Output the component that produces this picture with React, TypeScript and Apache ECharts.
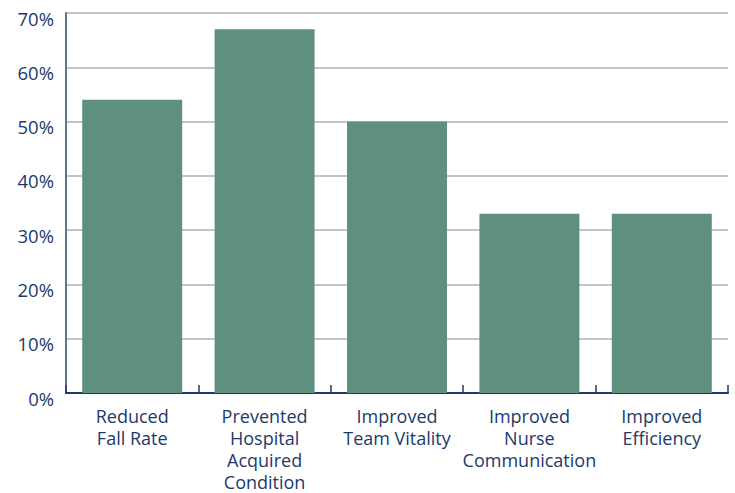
import React, { useEffect, useRef } from "react";
import * as echarts from "echarts";

const categories = [
  "Reduced\nFall Rate",
  "Prevented\nHospital\nAcquired\nCondition",
  "Improved\nTeam Vitality",
  "Improved\nNurse\nCommunication",
  "Improved\nEfficiency",
];
const values = [54, 67, 50, 33, 33];
const yMax = 70;
const yStep = 10;

const NAVY = "#1c3a6b";
const BAR = "#5f8f7f";
const FONT = "'Open Sans', sans-serif";

export default function App() {
  const ref = useRef<HTMLDivElement>(null);

  useEffect(() => {
    if (!ref.current) return;
    const chart = echarts.init(ref.current, undefined, { renderer: "svg" });
    chart.setOption({
      animation: false,
      grid: { left: 66, right: 7, top: 13, bottom: 96, containLabel: false },
      xAxis: {
        type: "category",
        data: categories,
        axisLine: { show: true, lineStyle: { color: NAVY, width: 2 } },
        axisTick: {
          show: true,
          inside: true,
          length: 8,
          alignWithLabel: false,
          lineStyle: { color: NAVY, width: 1.5 },
        },
        axisLabel: {
          interval: 0,
          margin: 12,
          color: NAVY,
          fontFamily: FONT,
          fontSize: 18,
          lineHeight: 22,
        },
      },
      yAxis: {
        type: "value",
        min: 0,
        max: yMax,
        interval: yStep,
        axisLine: { show: true, lineStyle: { color: "#56789a", width: 2 } },
        axisTick: { show: false },
        splitLine: { show: true, lineStyle: { color: "#c4c4c4", width: 2 } },
        axisLabel: {
          formatter: "{value}%",
          margin: 12,
          color: NAVY,
          fontFamily: FONT,
          fontSize: 18.5,
          verticalAlign: "top",
          lineHeight: 10,
        },
      },
      series: [
        {
          type: "bar",
          data: values,
          barWidth: "75.5%",
          itemStyle: { color: BAR },
        },
      ],
    });
    return () => chart.dispose();
  }, []);

  return (
    <div
      ref={ref}
      style={{ position: "absolute", left: 0, top: 0, width: 735, height: 493 }}
    />
  );
}
